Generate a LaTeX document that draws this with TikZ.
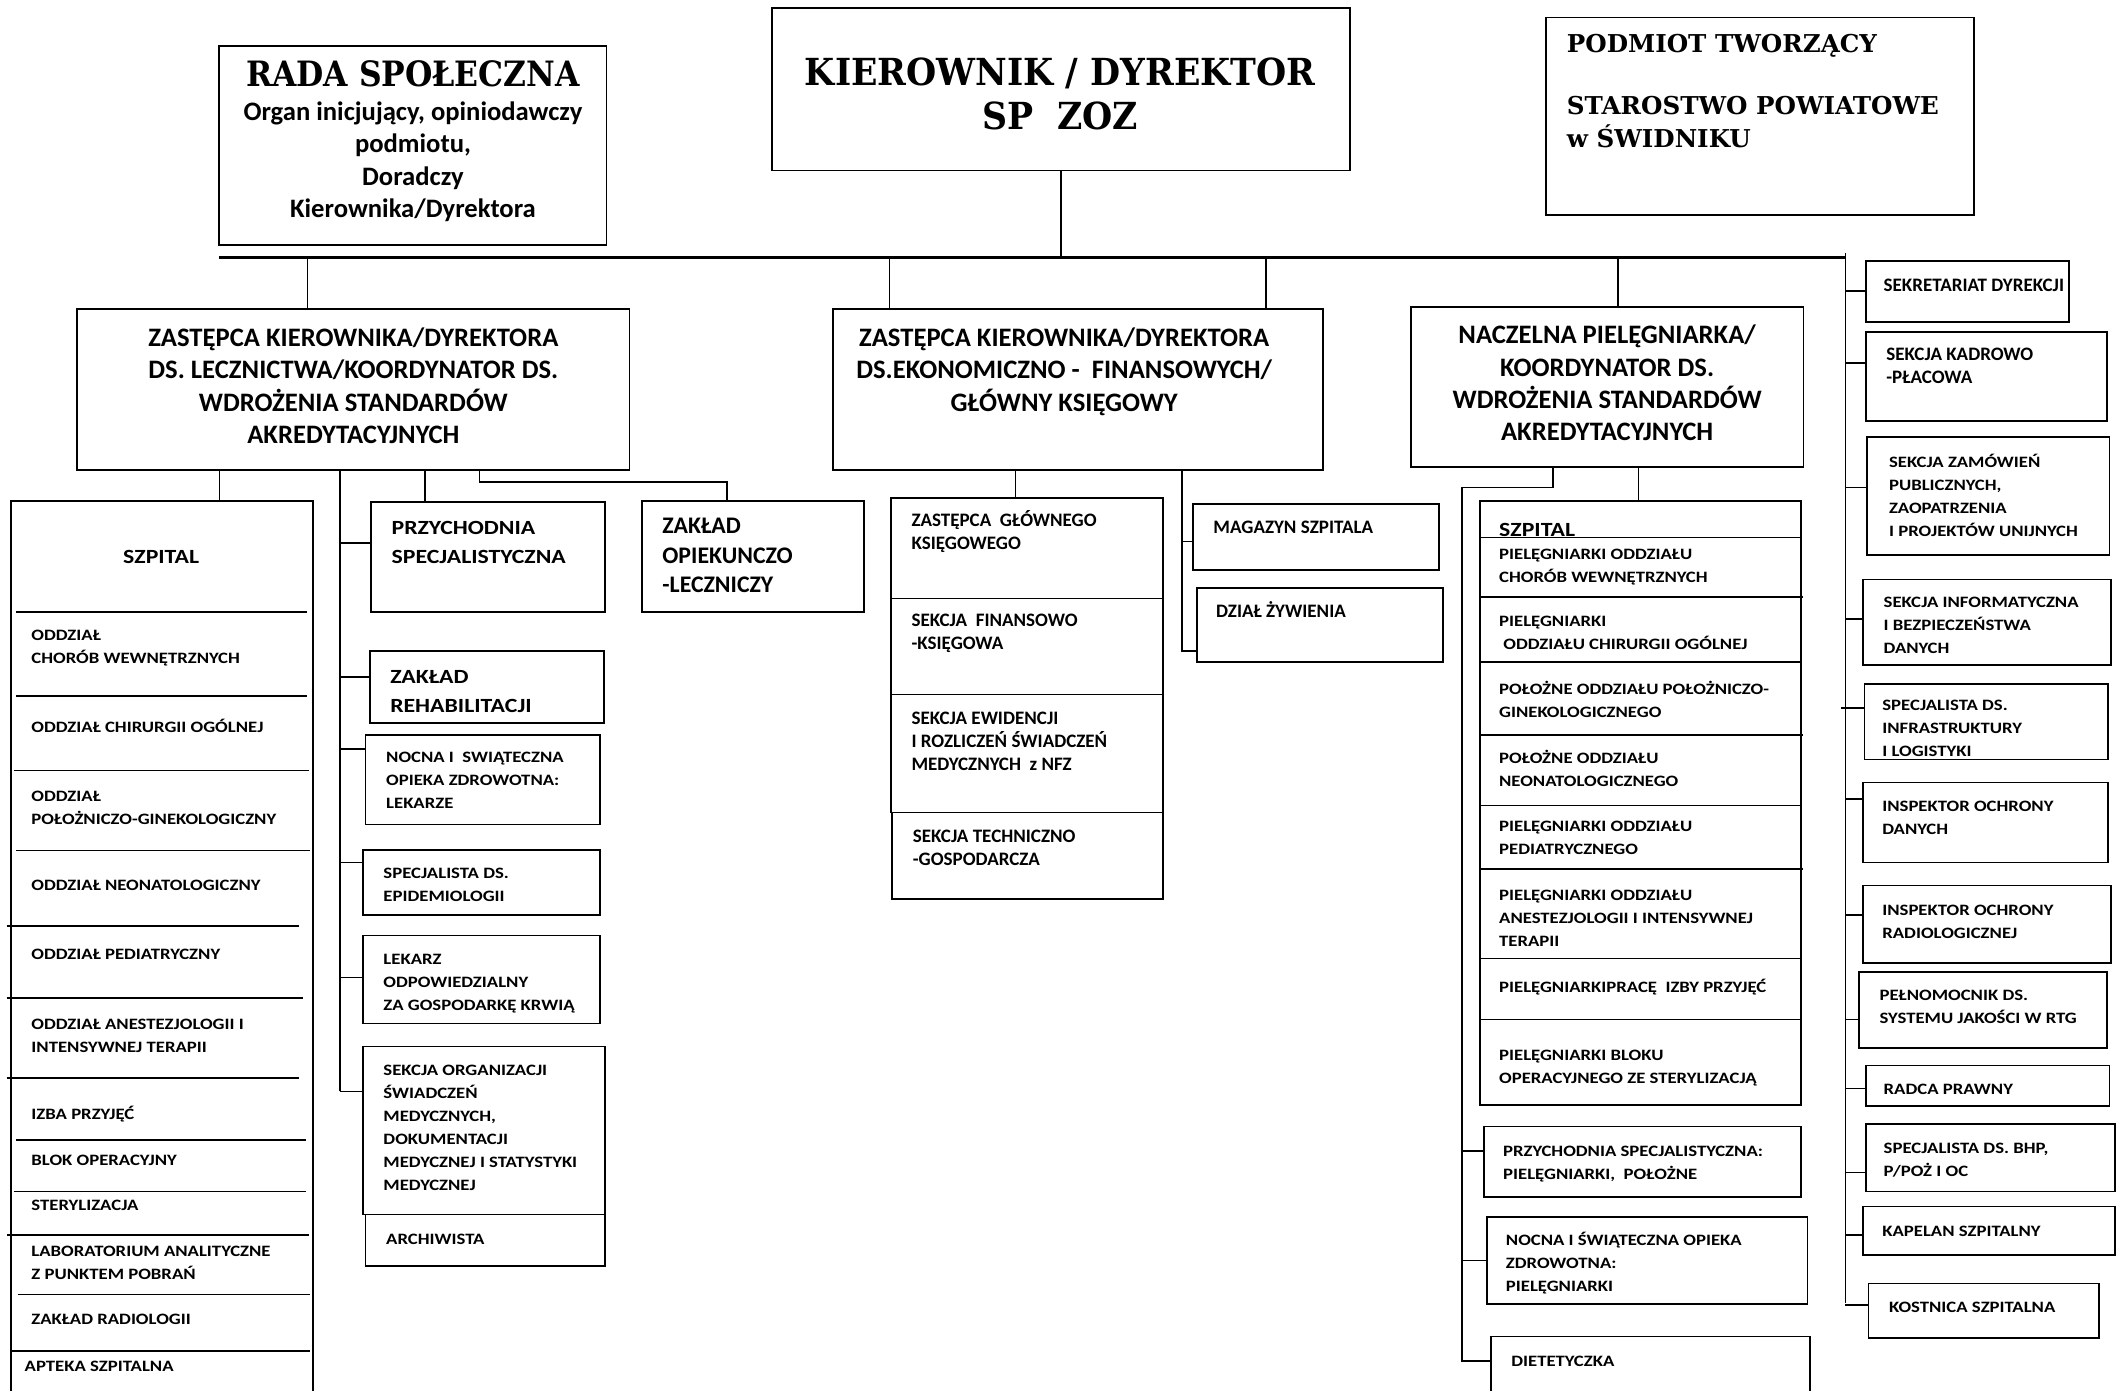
\documentclass[tikz,border=0pt]{standalone}
\usepackage{fontspec}
\setmainfont{Carlito}
\newfontfamily\widef[FakeStretch=1.18]{Carlito}
\newfontfamily\serifb[FakeStretch=0.93]{DejaVu Serif}
\newfontfamily\serifc[FakeStretch=0.9]{DejaVu Serif}
\newfontfamily\serifp{DejaVu Serif}
\usetikzlibrary{fit}
\newcommand{\txl}[1]{\begin{tabular}[t]{@{}l@{}}#1\end{tabular}}
\newcommand{\txc}[1]{\begin{tabular}[t]{@{}c@{}}#1\end{tabular}}

\begin{document}
\begin{tikzpicture}[x=0.03cm,y=-0.03cm,
  box/.style={draw,line width=1.1pt,inner sep=0pt},
  ln/.style={line width=1pt},
  nt/.style={anchor=base west,inner sep=0pt,font=\bfseries\fontsize{12}{14.5}\selectfont},
  wt/.style={anchor=base west,inner sep=0pt,font=\widef\bfseries\fontsize{10}{14.5}\selectfont},
  wtb/.style={anchor=base west,inner sep=0pt,font=\widef\bfseries\fontsize{12.7}{17.9}\selectfont},
  zt/.style={anchor=base west,inner sep=0pt,font=\bfseries\fontsize{15}{18.7}\selectfont},
  bt/.style={anchor=base,inner sep=0pt,font=\bfseries\fontsize{16.8}{20.4}\selectfont}]

\useasboundingbox (0,0) rectangle (1568,1027);
\clip (0,0) rectangle (1568,1027);

\node[box,fit={(162,34) (448,181)}] (rada) {};
\node[box,fit={(570,6) (997,126)}] (kier) {};
\node[box,fit={(1142,13) (1458,159)}] (podm) {};

\node[anchor=base,inner sep=0pt,font=\serifc\bfseries\fontsize{22}{24}\selectfont] (rada-h) at (305,64) {RADA SPOŁECZNA};
\node[bt] (rada-t) at (305,89) {\txc{Organ inicjujący, opiniodawczy\\podmiotu,\\Doradczy\\Kierownika/Dyrektora}};
\node[anchor=base,inner sep=0pt,font=\serifb\bfseries\fontsize{23.5}{28}\selectfont] (kier-t) at (783,63) {\txc{KIEROWNIK / DYREKTOR\\SP\ \ ZOZ}};
\node[anchor=base west,inner sep=0pt,font=\serifp\bfseries\fontsize{15.5}{19.6}\selectfont] (podm-t) at (1157,39) {\txl{PODMIOT TWORZĄCY\\[19.6pt]STAROSTWO POWIATOWE\\w ŚWIDNIKU}};

\coordinate (busL) at (162,190);
\coordinate (busR) at (1363,190);
\draw[line width=1.6pt] (busL) -- (busR);
\draw[ln] (kier.south) -- (kier.south |- busL);

\node[box,fit={(57,228) (465,347)}] (zk1) {};
\node[box,fit={(615,228) (977,347)}] (zk2) {};
\node[box,fit={(1042,227) (1332,345)}] (np) {};
\node[bt] (zk1-t) at (261,256) {\txc{ZASTĘPCA KIEROWNIKA/DYREKTORA\\DS. LECZNICTWA/KOORDYNATOR DS.\\WDROŻENIA STANDARDÓW\\AKREDYTACYJNYCH}};
\node[bt] (zk2-t) at (786,256) {\txc{ZASTĘPCA KIEROWNIKA/DYREKTORA\\DS.EKONOMICZNO -\ \ FINANSOWYCH/\\GŁÓWNY KSIĘGOWY}};
\node[bt] (np-t) at (1187,254) {\txc{NACZELNA PIELĘGNIARKA/\\KOORDYNATOR DS.\\WDROŻENIA STANDARDÓW\\AKREDYTACYJNYCH}};

\draw[ln] (227,190) -- (227,190 |- zk1.north);
\draw[ln] (657,190) -- (657,190 |- zk2.north);
\draw[ln] (935,190) -- (935,190 |- zk2.north);
\draw[ln] (1195,190) -- (1195,190 |- np.north);

\node[box,fit={(8,370) (231,1045)}] (szp) {};
\node[anchor=base,inner sep=0pt,font=\widef\bfseries\fontsize{12.7}{17.9}\selectfont] (szp-h) at (119,416) {SZPITAL};
\draw[ln] (12,452) -- (227,452);
\draw[ln] (12,514) -- (227,514);
\draw[ln] (10,569) -- (228,569);
\draw[ln] (12,628) -- (229,628);
\draw[ln] (5,684) -- (221,684);
\draw[ln] (5,737) -- (224,737);
\draw[ln] (5,796) -- (221,796);
\draw[ln] (12,842) -- (226,842);
\draw[ln] (10,880) -- (226,880);
\draw[ln] (5,912) -- (228,912);
\draw[ln] (13,956) -- (229,956);
\draw[ln] (8,998) -- (229,998);
\node[wt] (o1) at (23,473) {\txl{ODDZIAŁ\\CHORÓB WEWNĘTRZNYCH}};
\node[wt] (o2) at (23,541) {ODDZIAŁ CHIRURGII OGÓLNEJ};
\node[wt] (o3) at (23,592) {\txl{ODDZIAŁ\\POŁOŻNICZO-GINEKOLOGICZNY}};
\node[wt] (o4) at (23,658) {ODDZIAŁ NEONATOLOGICZNY};
\node[wt] (o5) at (23,709) {ODDZIAŁ PEDIATRYCZNY};
\node[wt] (o6) at (23,760) {\txl{ODDZIAŁ ANESTEZJOLOGII I\\INTENSYWNEJ TERAPII}};
\node[wt] (o7) at (23,827) {IZBA PRZYJĘĆ};
\node[wt] (o8) at (23,861) {BLOK OPERACYJNY};
\node[wt] (o9) at (23,894) {STERYLIZACJA};
\node[wt] (o10) at (23,928) {\txl{LABORATORIUM ANALITYCZNE\\Z PUNKTEM POBRAŃ}};
\node[wt] (o11) at (23,978) {ZAKŁAD RADIOLOGII};
\node[wt] (o12) at (18,1013) {APTEKA SZPITALNA};
\draw[ln] (162,0 |- zk1.south) -- (162,0 |- szp.north);

\node[box,fit={(274,371) (447,452)}] (przych) {};
\node[box,fit={(273,481) (446,534)}] (rehab) {};
\node[box,fit={(270,543) (443,609)}] (nocna) {};
\node[box,fit={(268,628) (443,676)}] (epid) {};
\node[box,fit={(268,691) (443,756)}] (krew) {};
\node[box,fit={(268,773) (447,897)}] (sorg) {};
\node[box,fit={(270,897) (447,935)}] (arch) {};
\node[wtb] (przych-t) at (289,395) {\txl{PRZYCHODNIA\\SPECJALISTYCZNA}};
\node[wtb] (rehab-t) at (288,505) {\txl{ZAKŁAD\\REHABILITACJI}};
\node[wt] (nocna-t) at (285,563) {\txl{NOCNA I\ \ SWIĄTECZNA\\OPIEKA ZDROWOTNA:\\LEKARZE}};
\node[wt] (epid-t) at (283,649) {\txl{SPECJALISTA DS.\\EPIDEMIOLOGII}};
\node[wt] (krew-t) at (283,712) {\txl{LEKARZ\\ODPOWIEDZIALNY\\ZA GOSPODARKĘ KRWIĄ}};
\node[wt] (sorg-t) at (283,794) {\txl{SEKCJA ORGANIZACJI\\ŚWIADCZEŃ\\MEDYCZNYCH,\\DOKUMENTACJI\\MEDYCZNEJ I STATYSTYKI\\MEDYCZNEJ}};
\node[wt] (arch-t) at (285,919) {ARCHIWISTA};

\draw[ln] (251,0 |- zk1.south) -- (251,806);
\draw[ln] (251,401) -- (przych.west |- 0,401);
\draw[ln] (251,500) -- (rehab.west |- 0,500);
\draw[ln] (251,553) -- (nocna.west |- 0,553);
\draw[ln] (251,637) -- (epid.west |- 0,637);
\draw[ln] (251,722) -- (krew.west |- 0,722);
\draw[ln] (251,806) -- (sorg.west |- 0,806);
\draw[ln] (314,0 |- zk1.south) -- (314,0 |- przych.north);

\node[box,fit={(474,370) (638,452)}] (zol) {};
\node[zt] (zol-t) at (489,394) {\txl{ZAKŁAD\\OPIEKUNCZO\\-LECZNICZY}};
\draw[ln] (354,0 |- zk1.south) -- (354,356) -- (537,356) -- (537,0 |- zol.north);

\node[box,fit={(658,368) (859,442)}] (zgk) {};
\node[box,fit={(658,442) (859,513)}] (fin) {};
\node[box,fit={(658,513) (859,600)}] (ewid) {};
\node[box,fit={(659,600) (859,664)}] (tech) {};
\node[nt] (zgk-t) at (673,389) {\txl{ZASTĘPCA\ \ GŁÓWNEGO\\KSIĘGOWEGO}};
\node[nt] (fin-t) at (673,463) {\txl{SEKCJA\ \ FINANSOWO\\-KSIĘGOWA}};
\node[nt] (ewid-t) at (673,535) {\txl{SEKCJA EWIDENCJI\\I ROZLICZEŃ ŚWIADCZEŃ\\MEDYCZNYCH\ \ z NFZ}};
\node[nt] (tech-t) at (674,622) {\txl{SEKCJA TECHNICZNO\\-GOSPODARCZA}};
\draw[ln] (750,0 |- zk2.south) -- (750,0 |- zgk.north);

\node[box,fit={(881,372) (1063,421)}] (mag) {};
\node[box,fit={(884,434) (1066,489)}] (zyw) {};
\node[nt] (mag-t) at (896,394) {MAGAZYN SZPITALA};
\node[nt] (zyw-t) at (898,456) {DZIAŁ ŻYWIENIA};
\draw[ln] (873,0 |- zk2.south) -- (873,481) -- (zyw.west |- 0,481);
\draw[ln] (873,400) -- (mag.west |- 0,400);

\node[box,fit={(1093,370) (1330,816)}] (szp2) {};
\node[anchor=base west,inner sep=0pt,font=\widef\bfseries\fontsize{12.7}{17.9}\selectfont] (szp2-h) at (1107,396) {SZPITAL};
\draw[ln] (1093,397) -- (1330,397);
\draw[ln] (1093,441) -- (1332,441);
\draw[ln] (1093,489) -- (1330,489);
\draw[ln] (1093,543) -- (1332,543);
\draw[ln] (1093,595) -- (1330,595);
\draw[ln] (1093,642) -- (1332,642);
\draw[ln] (1093,708) -- (1330,708);
\draw[ln] (1093,753) -- (1330,753);
\node[wt] (p1) at (1107,413) {\txl{PIELĘGNIARKI ODDZIAŁU\\CHORÓB WEWNĘTRZNYCH}};
\node[wt] (p2) at (1107,463) {\txl{PIELĘGNIARKI\\\ ODDZIAŁU CHIRURGII OGÓLNEJ}};
\node[wt] (p3) at (1107,513) {\txl{POŁOŻNE ODDZIAŁU POŁOŻNICZO-\\GINEKOLOGICZNEGO}};
\node[wt] (p4) at (1107,564) {\txl{POŁOŻNE ODDZIAŁU\\NEONATOLOGICZNEGO}};
\node[wt] (p5) at (1107,614) {\txl{PIELĘGNIARKI ODDZIAŁU\\PEDIATRYCZNEGO}};
\node[wt] (p6) at (1107,665) {\txl{PIELĘGNIARKI ODDZIAŁU\\ANESTEZJOLOGII I INTENSYWNEJ\\TERAPII}};
\node[wt] (p7) at (1107,733) {PIELĘGNIARKIPRACĘ\ \ IZBY PRZYJĘĆ};
\node[wt] (p8) at (1107,783) {\txl{PIELĘGNIARKI BLOKU\\OPERACYJNEGO ZE STERYLIZACJĄ}};
\draw[ln] (1210,0 |- np.south) -- (1210,0 |- szp2.north);

\node[box,fit={(1096,832) (1330,884)}] (pspec) {};
\node[box,fit={(1098,899) (1335,963)}] (nocp) {};
\node[box,fit={(1101,987) (1337,1045)}] (diet) {};
\node[wt] (pspec-t) at (1110,854) {\txl{PRZYCHODNIA SPECJALISTYCZNA:\\PIELĘGNIARKI,\ \ POŁOŻNE}};
\node[wt] (nocp-t) at (1112,920) {\txl{NOCNA I ŚWIĄTECZNA OPIEKA\\ZDROWOTNA:\\PIELĘGNIARKI}};
\node[wt] (diet-t) at (1116,1009) {DIETETYCZKA};
\draw[ln] (1147,0 |- np.south) -- (1147,360) -- (1080,360) -- (1080,1005) -- (diet.west |- 0,1005);
\draw[ln] (1080,850) -- (pspec.west |- 0,850);
\draw[ln] (1080,931) -- (nocp.west |- 0,931);

\node[box,fit={(1378,193) (1528,238)}] (sekr) {};
\node[box,fit={(1378,245) (1556,311)}] (kadr) {};
\node[box,fit={(1379,323) (1558,410)}] (zam) {};
\node[box,fit={(1376,428) (1559,491)}] (inf) {};
\node[box,fit={(1377,505) (1557,561)}] (infra) {};
\node[box,fit={(1376,578) (1557,637)}] (iod) {};
\node[box,fit={(1376,654) (1559,711)}] (iorad) {};
\node[box,fit={(1373,718) (1556,774)}] (peln) {};
\node[box,fit={(1378,787) (1558,817)}] (radca) {};
\node[box,fit={(1378,830) (1562,880)}] (bhp) {};
\node[box,fit={(1376,891) (1562,927)}] (kap) {};
\node[box,fit={(1380,948) (1550,988)}] (kost) {};
\node[nt] (sekr-t) at (1391,215) {SEKRETARIAT DYREKCJI};
\node[nt] (kadr-t) at (1393,266) {\txl{SEKCJA KADROWO\\-PŁACOWA}};
\node[wt] (zam-t) at (1395,345) {\txl{SEKCJA ZAMÓWIEŃ\\PUBLICZNYCH,\\ZAOPATRZENIA\\I PROJEKTÓW UNIJNYCH}};
\node[wt] (inf-t) at (1391,449) {\txl{SEKCJA INFORMATYCZNA\\I BEZPIECZEŃSTWA\\DANYCH}};
\node[wt] (infra-t) at (1390,525) {\txl{SPECJALISTA DS.\\INFRASTRUKTURY\\I LOGISTYKI}};
\node[wt] (iod-t) at (1390,599) {\txl{INSPEKTOR OCHRONY\\DANYCH}};
\node[wt] (iorad-t) at (1390,676) {\txl{INSPEKTOR OCHRONY\\RADIOLOGICZNEJ}};
\node[wt] (peln-t) at (1388,739) {\txl{PEŁNOMOCNIK DS.\\SYSTEMU JAKOŚCI W RTG}};
\node[wt] (radca-t) at (1391,808) {RADCA PRAWNY};
\node[wt] (bhp-t) at (1391,852) {\txl{SPECJALISTA DS. BHP,\\P/POŻ I OC}};
\node[wt] (kap-t) at (1390,913) {KAPELAN SZPITALNY};
\node[wt] (kost-t) at (1395,969) {KOSTNICA SZPITALNA};

\draw[ln] (1363,187) -- (1363,962);
\draw[ln] (1363,215) -- (sekr.west |- 0,215);
\draw[ln] (1363,268) -- (kadr.west |- 0,268);
\draw[ln] (1363,360) -- (zam.west |- 0,360);
\draw[ln] (1363,457) -- (inf.west |- 0,457);
\draw[ln] (1360,523) -- (infra.west |- 0,523);
\draw[ln] (1363,590) -- (iod.west |- 0,590);
\draw[ln] (1363,676) -- (iorad.west |- 0,676);
\draw[ln] (1363,753) -- (peln.west |- 0,753);
\draw[ln] (1363,804) -- (radca.west |- 0,804);
\draw[ln] (1363,866) -- (bhp.west |- 0,866);
\draw[ln] (1363,912) -- (kap.west |- 0,912);
\draw[ln] (1363,964) -- (kost.west |- 0,964);

\end{tikzpicture}
\end{document}
